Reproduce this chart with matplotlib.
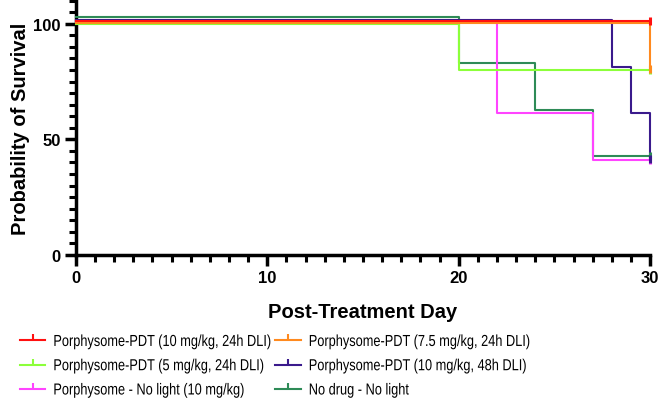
import matplotlib
matplotlib.use("Agg")
import matplotlib.pyplot as plt
from matplotlib.ticker import MultipleLocator
from matplotlib.patheffects import AbstractPathEffect
from matplotlib.transforms import Affine2D

# survival data (step curves, % survival)
labels = [
    "Porphysome-PDT (10 mg/kg, 24h DLI)",
    "Porphysome-PDT (7.5 mg/kg, 24h DLI)",
    "Porphysome-PDT (5 mg/kg, 24h DLI)",
    "Porphysome-PDT (10 mg/kg, 48h DLI)",
    "Porphysome - No light (10 mg/kg)",
    "No drug - No light",
]
times = [
    [0, 30],
    [0, 30],
    [0, 20, 30],
    [0, 28, 29, 30],
    [0, 22, 27, 30],
    [0, 20, 24, 27, 30],
]
survival = [
    [100, 100],
    [100, 80],
    [100, 80, 80],
    [100, 80, 60, 40],
    [100, 60, 40, 40],
    [100, 80, 60, 40, 40],
]

colors = ["#FF1010", "#FF8A1E", "#8CFF3A", "#3A1A8C", "#FF44FF", "#2E8B57"]
# small vertical nudge so overlapping curves stay visible (Prism style)
nudge = [1.0, 0.5, 0.0, 1.5, 1.2, 2.8]


class Narrow(AbstractPathEffect):
    # squeeze glyphs horizontally, legend font in the original is a narrow face
    def __init__(self, sx):
        super().__init__()
        self.sx = sx

    def draw_path(self, renderer, gc, tpath, affine, rgbFace=None):
        renderer.draw_path(gc, tpath, Affine2D().scale(self.sx, 1) + affine, rgbFace)


plt.rcParams['font.family'] = ['Liberation Sans', 'DejaVu Sans']

fig = plt.figure(figsize=(6.6, 4.1), dpi=100)
ax = fig.add_axes([0.115, 0.376, 0.870, 0.620])

order = [5, 4, 3, 2, 1, 0]
handles = [None] * len(labels)
for i in order:
    y = [v + nudge[i] for v in survival[i]]
    ax.step(times[i], y, where='post', color=colors[i], lw=1.5,
            clip_on=False, zorder=3)
    ax.plot(times[i][-1], y[-1], marker='|', ms=6, mew=2.2, color=colors[i],
            clip_on=False, zorder=4)
    h, = ax.plot([], [], color=colors[i], lw=1.5, marker=2, ms=4, mew=1.5)
    handles[i] = h

ax.set_xlim(0, 30)
ax.set_ylim(0, 110)
ax.xaxis.set_major_locator(MultipleLocator(10))
ax.xaxis.set_minor_locator(MultipleLocator(1))
ax.yaxis.set_major_locator(MultipleLocator(50))
ax.yaxis.set_minor_locator(MultipleLocator(5))

for s in ['top', 'right']:
    ax.spines[s].set_visible(False)
for s in ['left', 'bottom']:
    ax.spines[s].set_linewidth(2.5)

ax.tick_params(which='major', direction='out', length=8, width=2.5,
               labelsize=12, pad=3)
ax.tick_params(which='minor', direction='out', length=5, width=2.2)
for t in ax.get_xticklabels() + ax.get_yticklabels():
    t.set_fontweight('bold')

ax.set_xlabel("Post-Treatment Day", fontsize=14.5, fontweight='bold', labelpad=12)
ax.set_ylabel("Probability of Survival", fontsize=14.5, fontweight='bold', labelpad=2)

# legend: two columns, one legend each
columns = [([0, 2, 4], 0.030), ([1, 3, 5], 0.417)]
for idx, x0 in columns:
    leg = fig.legend([handles[i] for i in idx], [labels[i] for i in idx],
                     loc='upper left', bbox_to_anchor=(x0, 0.183),
                     frameon=False, handlelength=1.6, handletextpad=0.5,
                     labelspacing=0.58, borderpad=0, borderaxespad=0,
                     fontsize=11.5)
    for t in leg.get_texts():
        t.set_path_effects([Narrow(0.80)])

fig.savefig("out.png", dpi=100)
